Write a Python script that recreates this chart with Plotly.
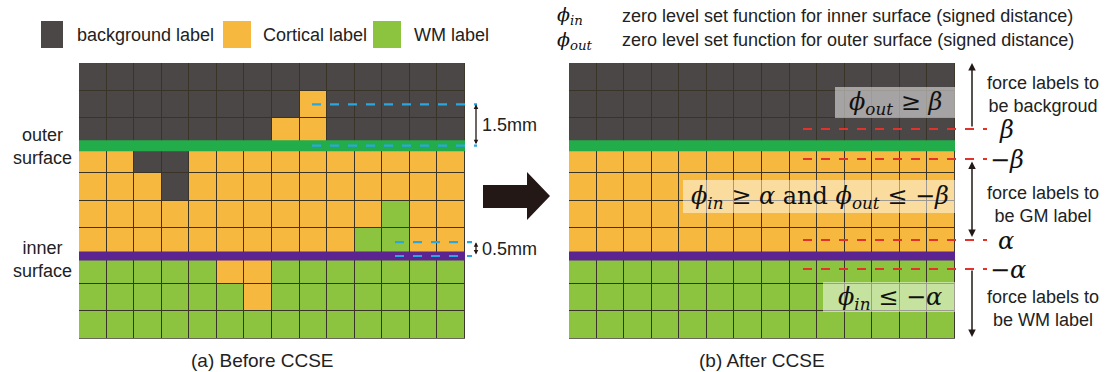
import plotly.graph_objects as go

# ---- label maps (0 = background, 1 = cortical, 2 = white matter) ----
LABEL_NAMES = ["background label", "Cortical label", "WM label"]
LABEL_COLORS = ["#4b4747", "#f7b83f", "#8cc43f"]

BEFORE_CCSE = [
    [0, 0, 0, 0, 0, 0, 0, 0, 0, 0, 0, 0, 0, 0],
    [0, 0, 0, 0, 0, 0, 0, 0, 1, 0, 0, 0, 0, 0],
    [0, 0, 0, 0, 0, 0, 0, 1, 1, 0, 0, 0, 0, 0],
    [1, 1, 0, 0, 1, 1, 1, 1, 1, 1, 1, 1, 1, 1],
    [1, 1, 1, 0, 1, 1, 1, 1, 1, 1, 1, 1, 1, 1],
    [1, 1, 1, 1, 1, 1, 1, 1, 1, 1, 1, 2, 1, 1],
    [1, 1, 1, 1, 1, 1, 1, 1, 1, 1, 2, 2, 1, 1],
    [2, 2, 2, 2, 2, 1, 1, 2, 2, 2, 2, 2, 2, 2],
    [2, 2, 2, 2, 2, 2, 1, 2, 2, 2, 2, 2, 2, 2],
    [2, 2, 2, 2, 2, 2, 2, 2, 2, 2, 2, 2, 2, 2],
]
AFTER_CCSE = (
    [[0] * 14 for _ in range(3)]
    + [[1] * 14 for _ in range(4)]
    + [[2] * 14 for _ in range(3)]
)

OUTER_SURFACE_ROW = 2.5   # surfaces lie on row boundaries
INNER_SURFACE_ROW = 6.5
GAP_OUTER_MM = 1.5        # one cell = 1 mm
GAP_INNER_MM = 0.5
CAPTIONS = ["(a) Before CCSE", "(b) After CCSE"]
LEVEL_SET_NOTES = ["zero level set function for inner surface (signed distance)",
                   "zero level set function for outer surface (signed distance)"]
SIDE_NOTES = ["force labels to<br>be backgroud",
              "force labels to<br>be GM label",
              "force labels to<br>be WM label"]

# ---- geometry (pixel layout of the 1112 x 372 canvas) ----
W, H = 1112, 372
CELL = 27.57
LEFT_X0, TOP_Y0, RIGHT_X0 = 79.0, 63.0, 569.0
NROW, NCOL = len(BEFORE_CCSE), len(BEFORE_CCSE[0])


def X(px):
    return (px - LEFT_X0) / CELL - 0.5


def Y(py):
    return (py - TOP_Y0) / CELL - 0.5


RIGHT_C0 = X(RIGHT_X0) + 0.5

SANS = "Liberation Sans, Arial, sans-serif"
SERIF = "DejaVu Serif, Liberation Serif, serif"
INK = "#231815"

n = len(LABEL_COLORS)
colorscale = []
for i, c in enumerate(LABEL_COLORS):
    colorscale += [[i / n, c], [(i + 1) / n, c]]

fig = go.Figure()
shapes = []
annotations = []

for grid, c0 in ((BEFORE_CCSE, 0.0), (AFTER_CCSE, RIGHT_C0)):
    # dark backing that shows through the cell gaps as grid lines
    shapes.append(dict(type="rect", xref="x", yref="y", layer="below",
                       x0=c0 - 0.5, x1=c0 + NCOL - 0.5, y0=-0.5, y1=NROW - 0.5,
                       fillcolor="#3a3428", line=dict(width=0)))
    fig.add_trace(go.Heatmap(
        z=grid, x0=c0, dx=1, y0=0, dy=1,
        zmin=-0.5, zmax=n - 0.5, colorscale=colorscale, showscale=False,
        xgap=1, ygap=1, hoverinfo="skip"))
    # outer (green) and inner (purple) surfaces
    shapes.append(dict(type="rect", xref="x", yref="y",
                       x0=c0 - 0.5, x1=c0 + NCOL - 0.5,
                       y0=OUTER_SURFACE_ROW - 0.2, y1=OUTER_SURFACE_ROW + 0.2,
                       fillcolor="#22ad4a", line=dict(width=0)))
    shapes.append(dict(type="rect", xref="x", yref="y",
                       x0=c0 - 0.5, x1=c0 + NCOL - 0.5,
                       y0=INNER_SURFACE_ROW - 0.16, y1=INNER_SURFACE_ROW + 0.16,
                       fillcolor="#5b2490", line=dict(width=0)))

# ---- legend ----
legend_boxes = [(41, 63), (223, 251), (373, 401)]
legend_text_x = [75, 261, 412]
for (a, b), tx, name, col in zip(legend_boxes, legend_text_x, LABEL_NAMES, LABEL_COLORS):
    shapes.append(dict(type="rect", xref="x", yref="y", x0=X(a), x1=X(b),
                       y0=Y(21), y1=Y(48), fillcolor=col, line=dict(width=0)))
    annotations.append(dict(x=X(tx), y=Y(35), text=name, showarrow=False,
                            xanchor="left", yanchor="middle",
                            font=dict(family=SANS, size=18, color="#222")))

# ---- level set definitions ----
annotations.append(dict(x=X(555), y=Y(28), text="<i>ϕ<sub>in</sub></i><br><i>ϕ<sub>out</sub></i>",
                        showarrow=False, xanchor="left", yanchor="middle", align="left",
                        font=dict(family=SERIF, size=19, color="#111")))
for py, desc in zip((16, 40), LEVEL_SET_NOTES):
    annotations.append(dict(x=X(620), y=Y(py), text=desc, showarrow=False,
                            xanchor="left", yanchor="middle",
                            font=dict(family=SANS, size=18, color="#222")))

# ---- surface names ----
for py, txt in ((146, "outer<br>surface"), (259, "inner<br>surface")):
    annotations.append(dict(x=X(42), y=Y(py), text=txt, showarrow=False,
                            xanchor="center", yanchor="middle", align="center",
                            font=dict(family=SANS, size=18, color="#222")))

# ---- thickness markers on the "before" grid ----
BLUE = "#2aa6e0"
for ys, x0p, x1p, xa, label in (
        ((OUTER_SURFACE_ROW - GAP_OUTER_MM, OUTER_SURFACE_ROW), 312, 477, 476, f"{GAP_OUTER_MM}mm"),
        ((INNER_SURFACE_ROW - GAP_INNER_MM, INNER_SURFACE_ROW), 395, 472, 476, f"{GAP_INNER_MM}mm")):
    for yv in ys:
        shapes.append(dict(type="line", xref="x", yref="y", x0=X(x0p), x1=X(x1p),
                           y0=yv, y1=yv, line=dict(color=BLUE, width=2.2, dash="dash")))
    annotations.append(dict(x=X(xa), y=ys[0], ax=X(xa), ay=ys[1], axref="x", ayref="y",
                            xref="x", yref="y", text="", showarrow=True,
                            arrowhead=2, arrowside="end+start", arrowsize=0.7,
                            arrowwidth=1.3, arrowcolor=INK, standoff=0, startstandoff=0))
    annotations.append(dict(x=X(xa + 4), y=(ys[0] + ys[1]) / 2, text=label, showarrow=False,
                            xanchor="left", yanchor="middle",
                            font=dict(family=SANS, size=18, color="#222")))

# ---- transition arrow ----
pts = [(483, 185), (527, 185), (527, 172), (550, 196), (527, 220), (527, 208), (483, 208)]
path = "M " + " L ".join(f"{X(a):.4f},{Y(b):.4f}" for a, b in pts) + " Z"
shapes.append(dict(type="path", xref="x", yref="y", path=path,
                   fillcolor=INK, line=dict(width=0)))

# ---- constraint regions on the "after" grid ----
for x0p, x1p, y0p, y1p, txt in (
        (835, 956, 87, 118, "<i>ϕ<sub>out</sub></i> ≥ <i>β</i>"),
        (683, 956, 180, 213, "<i>ϕ<sub>in</sub></i> ≥ <i>α</i> and <i>ϕ<sub>out</sub></i> ≤ −<i>β</i>"),
        (823, 956, 282, 312, "<i>ϕ<sub>in</sub></i> ≤ −<i>α</i>")):
    shapes.append(dict(type="rect", xref="x", yref="y", x0=X(x0p), x1=X(x1p),
                       y0=Y(y0p), y1=Y(y1p), fillcolor="rgba(255,255,255,0.5)",
                       line=dict(width=0)))
    annotations.append(dict(x=X((x0p + x1p) / 2), y=Y((y0p + y1p) / 2 + 1), text=txt,
                            showarrow=False, xanchor="center", yanchor="middle",
                            font=dict(family=SERIF, size=24, color="#111")))

# ---- level lines ----
RED = "#e3322b"
levels = [(129, "<i>β</i>", 1006, "center"), (159, "−<i>β</i>", 988, "left"),
          (240, "<i>α</i>", 1006, "center"), (269, "−<i>α</i>", 988, "left")]
for py, txt, tx, anc in levels:
    shapes.append(dict(type="line", xref="x", yref="y", x0=X(803), x1=X(987),
                       y0=Y(py), y1=Y(py), line=dict(color=RED, width=2, dash="dash")))
    annotations.append(dict(x=X(tx), y=Y(py + 1), text=txt, showarrow=False,
                            xanchor=anc, yanchor="middle",
                            font=dict(family=SERIF, size=24, color="#111")))

# ---- force-label arrows ----
AX = 972
for head, tail, side in ((63, 128, "end"), (237, 160, "end+start"), (337, 269, "end")):
    annotations.append(dict(x=X(AX), y=Y(head), ax=X(AX), ay=Y(tail), axref="x", ayref="y",
                            xref="x", yref="y", text="", showarrow=True, arrowhead=2,
                            arrowside=side, arrowsize=1, arrowwidth=1.5, arrowcolor=INK,
                            standoff=0, startstandoff=0))
for py, txt in zip((94, 204, 308), SIDE_NOTES):
    annotations.append(dict(x=X(1043), y=Y(py), text=txt, showarrow=False,
                            xanchor="center", yanchor="middle", align="center",
                            font=dict(family=SANS, size=18, color="#222")))

# ---- captions ----
for cx, cap in zip((262, 762), CAPTIONS):
    annotations.append(dict(x=X(cx), y=Y(360), text=cap, showarrow=False,
                            xanchor="center", yanchor="middle",
                            font=dict(family=SANS, size=19, color="#222")))

for a in annotations:
    a.setdefault("xref", "x")
    a.setdefault("yref", "y")

fig.update_layout(
    width=W, height=H, margin=dict(l=0, r=0, t=0, b=0),
    paper_bgcolor="white", plot_bgcolor="white", showlegend=False,
    xaxis=dict(range=[X(0), X(W)], visible=False, fixedrange=True),
    yaxis=dict(range=[Y(H), Y(0)], visible=False, fixedrange=True),
    shapes=shapes, annotations=annotations,
)

fig.write_html("out.html")
